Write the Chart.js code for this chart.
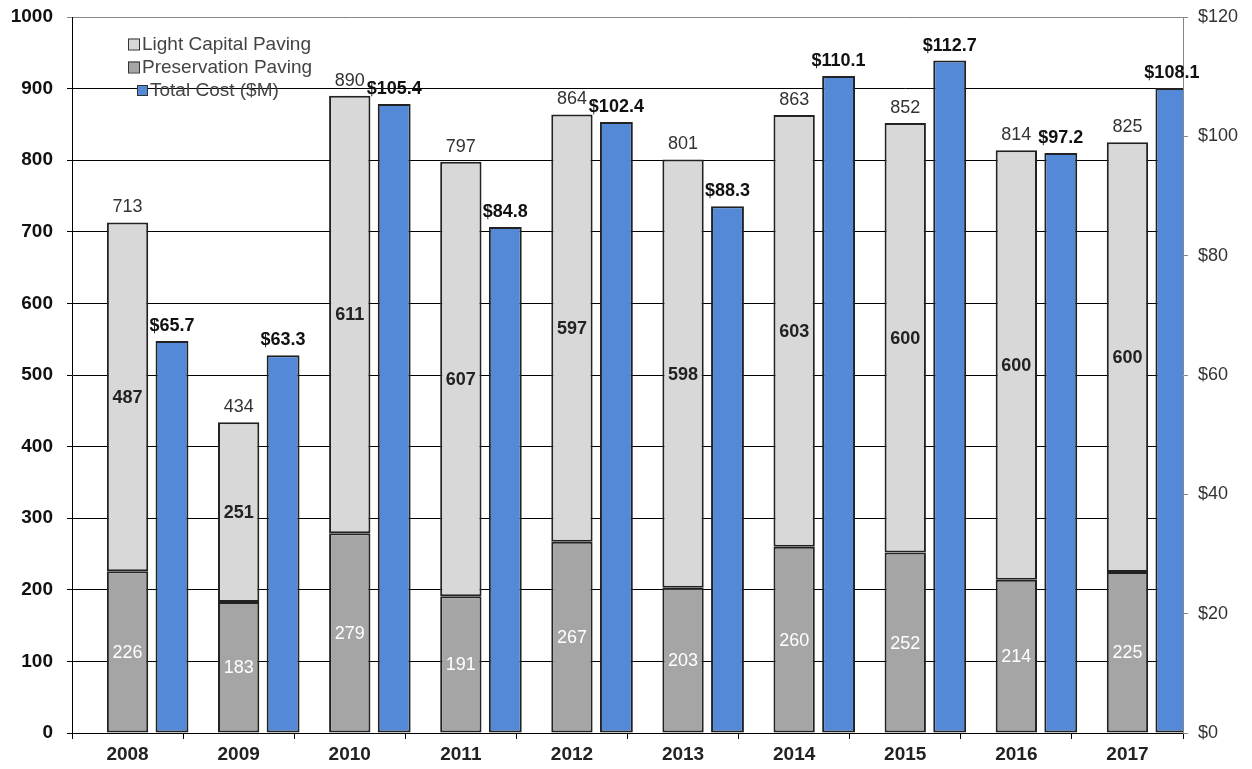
<!DOCTYPE html>
<html>
<head>
<meta charset="utf-8">
<title>Paving miles and cost</title>
<script src="https://cdn.jsdelivr.net/npm/chart.js@4.4.1/dist/chart.umd.min.js"></script>
<style>
  html, body { margin: 0; padding: 0; background: #fff; }
  #wrap { position: relative; width: 1252px; height: 769px; }
</style>
</head>
<body>
<div id="wrap"><canvas id="pavingChart"></canvas></div>
<script>
// data
const years = ['2008', '2009', '2010', '2011', '2012', '2013', '2014', '2015', '2016', '2017'];
const preservationPaving = [226, 183, 279, 191, 267, 203, 260, 252, 214, 225];
const lightCapitalPaving = [487, 251, 611, 607, 597, 598, 603, 600, 600, 600];
const totalPaving = [713, 434, 890, 797, 864, 801, 863, 852, 814, 825];
const totalCost = [65.7, 63.3, 105.4, 84.8, 102.4, 88.3, 110.1, 112.7, 97.2, 108.1];
const milesAxis = [0, 1000, 100];   // min, max, step
const costAxis = [0, 120, 20];

const FONT = '"Liberation Sans", Arial, sans-serif';
const LIGHT = '#d8d8d8';
const DARK = '#a5a5a5';
const BLUE = '#5389d6';
const EDGE = '#222';

Chart.defaults.font.family = FONT;

// numbers on and above the bars
const barLabels = {
  id: 'barLabels',
  afterDatasetsDraw(chart) {
    const ctx = chart.ctx;
    ctx.save();
    ctx.textAlign = 'center';

    chart.getDatasetMeta(1).data.forEach((bar, i) => {
      ctx.font = '18px ' + FONT;
      ctx.fillStyle = '#fff';
      ctx.textBaseline = 'middle';
      ctx.fillText(preservationPaving[i], bar.x, (bar.y + bar.base) / 2 + 1);
    });

    chart.getDatasetMeta(2).data.forEach((bar, i) => {
      ctx.font = 'bold 18px ' + FONT;
      ctx.fillStyle = '#222';
      ctx.textBaseline = 'middle';
      ctx.fillText(lightCapitalPaving[i], bar.x, (bar.y + bar.base) / 2 + 1);
      ctx.font = '18px ' + FONT;
      ctx.fillStyle = '#333';
      ctx.textBaseline = 'bottom';
      ctx.fillText(totalPaving[i], bar.x, bar.y - 6);
    });

    chart.getDatasetMeta(3).data.forEach((bar, i) => {
      ctx.font = 'bold 18px ' + FONT;
      ctx.fillStyle = '#111';
      ctx.textBaseline = 'bottom';
      ctx.fillText('$' + totalCost[i].toFixed(1), bar.x, bar.y - 6);
    });
    ctx.restore();
  }
};

// legend sits inside the plot, top left
const boxLegend = {
  id: 'boxLegend',
  afterDraw(chart) {
    const ctx = chart.ctx;
    const items = [
      { text: 'Light Capital Paving', fill: LIGHT, x: 128, y: 44, s: 11 },
      { text: 'Preservation Paving', fill: DARK, x: 128, y: 67, s: 11 },
      { text: 'Total Cost ($M)', fill: BLUE, x: 137, y: 90, s: 10 }
    ];
    ctx.save();
    ctx.font = '19px ' + FONT;
    ctx.textBaseline = 'middle';
    ctx.textAlign = 'left';
    items.forEach(it => {
      ctx.fillStyle = it.fill;
      ctx.fillRect(it.x, it.y - it.s / 2, it.s, it.s);
      ctx.strokeStyle = '#333';
      ctx.lineWidth = 1;
      ctx.strokeRect(it.x + 0.5, it.y - it.s / 2 + 0.5, it.s, it.s);
      ctx.fillStyle = '#444';
      ctx.fillText(it.text, it.x + it.s + 3, it.y + 1);
    });
    ctx.restore();
  }
};

// fixed axis sizes so the plot area lands where it is in the reference
function fixY(width) {
  return s => { s.width = width; s.paddingTop = 0; s.paddingBottom = 0; };
}

const $canvas = document.getElementById('pavingChart');
const pavingChart = new Chart($canvas, {
  type: 'bar',
  data: {
    labels: years,
    datasets: [
      {
        // empty slot on the left of each group, pushes the pair to the right
        label: 'pad',
        stack: 'pad',
        data: years.map(() => null),
        yAxisID: 'y'
      },
      {
        label: 'Preservation Paving',
        stack: 'miles',
        data: preservationPaving,
        backgroundColor: DARK,
        borderColor: EDGE,
        borderWidth: 2,
        borderSkipped: false,
        barPercentage: 0.93,
        yAxisID: 'y'
      },
      {
        label: 'Light Capital Paving',
        stack: 'miles',
        data: lightCapitalPaving,
        backgroundColor: LIGHT,
        borderColor: EDGE,
        borderWidth: 2,
        borderSkipped: false,
        barPercentage: 0.93,
        yAxisID: 'y'
      },
      {
        label: 'Total Cost ($M)',
        stack: 'cost',
        data: totalCost,
        backgroundColor: BLUE,
        borderColor: EDGE,
        borderWidth: 2,
        borderSkipped: false,
        barPercentage: 0.74,
        yAxisID: 'y2'
      }
    ]
  },
  options: {
    responsive: true,
    maintainAspectRatio: false,
    animation: false,
    categoryPercentage: 1.2,
    layout: { padding: { top: 17, left: 0, right: 0, bottom: 0 } },
    plugins: {
      legend: { display: false },
      tooltip: { enabled: false }
    },
    scales: {
      x: {
        grid: { drawOnChartArea: false, drawTicks: true, tickLength: 6, color: '#000', offset: true },
        border: { color: '#000', width: 1 },
        ticks: { color: '#222', font: { size: 19, weight: 'bold' }, padding: 4, maxRotation: 0 },
        afterFit: s => { s.height = 36; s.paddingLeft = 0; s.paddingRight = 0; }
      },
      y: {
        stacked: true,
        position: 'left',
        min: milesAxis[0],
        max: milesAxis[1],
        ticks: {
          stepSize: milesAxis[2],
          color: '#111',
          font: { size: 19, weight: 'bold' },
          padding: 14,
          callback: v => String(v)
        },
        grid: {
          color: c => c.tick.value === milesAxis[1] ? '#888' : '#000',
          lineWidth: 1,
          tickLength: 5
        },
        border: { color: '#000', width: 1 },
        afterFit: fixY(72)
      },
      y2: {
        position: 'right',
        min: costAxis[0],
        max: costAxis[1],
        ticks: {
          stepSize: costAxis[2],
          color: '#333',
          font: { size: 18 },
          padding: 10,
          callback: v => '$' + v
        },
        grid: { drawOnChartArea: false, tickLength: 5, color: '#888' },
        border: { color: '#888', width: 1 },
        afterFit: fixY(69)
      }
    }
  },
  plugins: [barLabels, boxLegend]
});
</script>
</body>
</html>
